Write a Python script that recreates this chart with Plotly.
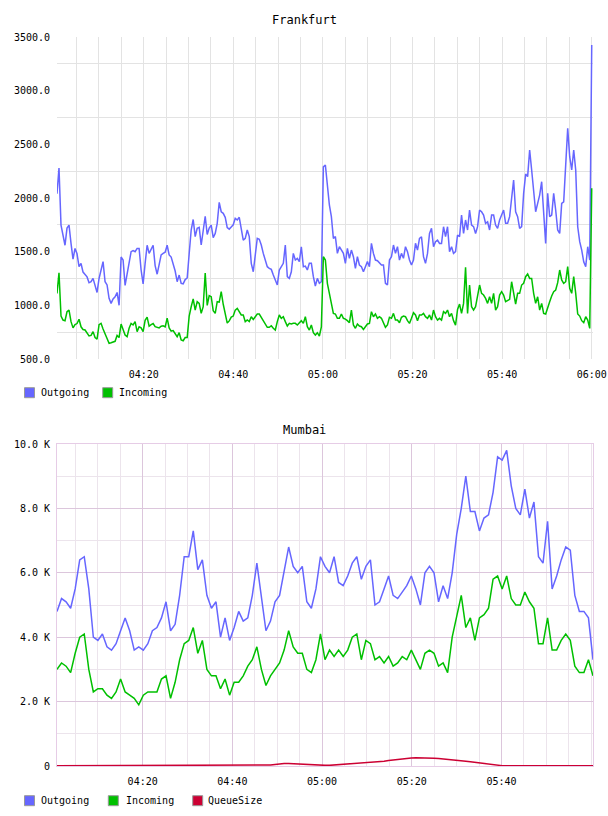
import pandas as pd
import plotly.graph_objects as go

# ---------------- data ----------------
# Frankfurt (values), sampled evenly from 04:00:39 to 06:00:00
fra_outgoing = [
    2040, 2280, 1748, 1650, 1560, 1720, 1748, 1577, 1430, 1530, 1480, 1360, 1390, 1310, 1290, 1265,
    1210, 1220, 1251, 1170, 1120, 1250, 1320, 1407, 1220, 1190, 1065, 1018, 1060, 1080, 1120, 1000,
    1450, 1422, 1185, 1290, 1420, 1500, 1510, 1500, 1530, 1530, 1329, 1200, 1391, 1560, 1484, 1520,
    1560, 1370, 1290, 1380, 1470, 1484, 1495, 1560, 1470, 1450, 1390, 1320, 1220, 1282, 1205, 1200,
    1240, 1255, 1480, 1702, 1800, 1640, 1717, 1726, 1562, 1717, 1830, 1660, 1720, 1748, 1630, 1670,
    1764, 1960, 1872, 1857, 1820, 1725, 1710, 1730, 1750, 1810, 1795, 1820,
    1702, 1608, 1624, 1702, 1640, 1391, 1313, 1453, 1624, 1615, 1562, 1484, 1428, 1360, 1345, 1335,
    1282, 1242, 1190, 1329, 1360, 1391, 1562, 1267, 1251, 1313, 1484, 1422, 1438, 1407, 1546, 1360,
    1366, 1329, 1391, 1391, 1267, 1180, 1251, 1205, 1220, 2290, 2307, 2090, 1935, 1826, 1624, 1640,
    1484, 1546, 1515, 1484, 1391, 1531, 1438, 1515, 1453, 1345, 1453, 1376, 1360, 1313, 1360, 1407,
    1360, 1578, 1484, 1422, 1416, 1397, 1376, 1376, 1205, 1189, 1422, 1453, 1562, 1484, 1546, 1422,
    1484, 1438, 1546, 1500, 1422, 1376, 1422, 1578, 1515, 1624,
    1639, 1453, 1391, 1484, 1670, 1717, 1546, 1593, 1608, 1577, 1577, 1732, 1640, 1732, 1500, 1546,
    1484, 1500, 1655, 1640, 1841, 1670, 1795, 1702, 1888, 1748, 1733, 1670, 1733, 1888, 1872, 1841,
    1764, 1779, 1702, 1841, 1841, 1748, 1717, 1795, 1841, 1888, 1764, 1764, 1826, 2012, 2168, 1872,
    1826, 1717, 1733, 2043, 2223, 2199, 2447, 2261, 2074, 1872, 1950, 2027, 2152, 1888, 1577, 2043,
    1826, 1841, 2043, 1888, 1702, 1670, 1950, 1965, 2354, 2649, 2385, 2261, 2447, 2261, 1732, 1593,
    1515, 1406, 1360, 1546, 1422, 3425,
]
fra_incoming = [
    1110, 1304, 900, 863, 857, 940, 956, 848, 790, 820, 830, 870, 800, 775, 770, 745,
    715, 720, 755, 700, 685, 820, 832, 780, 730, 690, 646, 652, 661, 665, 720, 700,
    826, 770, 723, 708, 786, 832, 817, 848, 755, 800, 790, 755, 860, 890, 805, 820,
    830, 801, 795, 790, 805, 810, 800, 880, 790, 760, 765, 730, 708, 745, 677, 670,
    700, 700, 900, 987, 1060, 956, 1034, 1018, 925, 987, 1300, 1000, 1090, 1081, 950, 925,
    1034, 1030, 1127, 1010, 930, 835, 855, 890, 900, 956, 972, 935,
    910, 910, 848, 863, 848, 894, 869, 894, 919, 919, 888, 857, 826, 795, 795, 810,
    786, 770, 848, 910, 879, 894, 848, 807, 832, 826, 832, 832, 817, 838, 857, 832,
    894, 801, 770, 817, 745, 723, 745, 714, 800, 1453, 1422, 1205, 1112, 1018, 925, 919,
    879, 879, 919, 879, 872, 857, 838, 956, 817, 786, 826, 807, 801, 776, 807, 826,
    832, 941, 894, 919, 879, 894, 879, 832, 795, 817, 888, 879, 925, 863, 863, 838,
    888, 900, 894, 857, 832, 879, 931, 910, 857, 910,
    910, 925, 894, 879, 910, 863, 956, 894, 863, 879, 863, 941, 925, 956, 894, 925,
    857, 816, 962, 1012, 925, 1018, 1354, 925, 1189, 987, 956, 987, 1080, 1189, 1112, 1096,
    1065, 1018, 1080, 1018, 1112, 956, 987, 1096, 1127, 1096, 1034, 1043, 1056, 1220, 1112, 1012,
    1112, 1112, 1189, 1205, 1267, 1292, 1251, 1251, 1112, 1018, 1080, 956, 1018, 925, 919, 987,
    1034, 1087, 1127, 1143, 1211, 1329, 1236, 1205, 1220, 1360, 1158, 1112, 1267, 1112, 919, 900,
    857, 838, 894, 863, 785, 2090,
]

# Mumbai (thousands), sampled evenly from 04:00:54 to 06:00:25
mum_outgoing = [
    4.8, 5.2, 5.1, 4.9, 5.5, 6.4, 6.5, 5.5, 4.0, 3.9,
    4.1, 3.7, 3.6, 3.8, 4.2, 4.6, 4.2, 3.6, 3.7, 3.6,
    3.8, 4.2, 4.3, 4.6, 5.1, 4.2, 4.4, 5.3, 6.5, 6.5,
    7.3, 6.1, 6.4, 5.3, 4.9, 5.1, 4.0, 4.6, 3.9, 4.3,
    4.8, 4.5, 4.6, 5.3, 6.3, 5.2, 4.2, 4.5, 5.1, 5.3,
    6.0, 6.8, 6.2, 6.0, 6.2, 5.1, 4.9, 5.5, 6.5, 6.2,
    6.0, 6.5, 5.7, 5.6, 5.9, 6.3, 6.5, 5.8, 6.2, 6.4,
    5.0, 5.1, 5.5, 5.9, 5.3, 5.2, 5.4, 5.6, 5.9, 5.5,
    5.0, 6.0, 6.2, 6.0, 5.1, 5.6, 5.2, 6.0, 7.2, 8.0,
    9.0, 7.9, 7.9, 7.3, 7.7, 7.8, 8.5, 9.6, 9.5, 9.8,
    8.7, 8.0, 7.8, 8.6, 7.7, 8.2, 6.5, 6.3, 7.6, 5.5,
    5.9, 6.4, 6.8, 6.7, 5.3, 4.8, 4.8, 4.6, 3.3,
]
mum_incoming = [
    3.0, 3.2, 3.1, 2.9, 3.5, 4.0, 4.1, 3.0, 2.3, 2.4,
    2.4, 2.2, 2.1, 2.3, 2.7, 2.3, 2.2, 2.1, 1.9, 2.2,
    2.3, 2.3, 2.3, 2.7, 2.8, 2.1, 2.6, 3.3, 3.8, 3.9,
    4.3, 3.5, 3.9, 3.0, 2.8, 2.8, 2.4, 2.7, 2.2, 2.6,
    2.6, 2.8, 3.1, 3.3, 3.7, 3.0, 2.5, 2.8, 3.0, 3.2,
    3.6, 4.2, 3.7, 3.5, 3.5, 3.0, 2.9, 3.3, 4.1, 3.3,
    3.6, 3.4, 3.6, 3.4, 3.6, 4.0, 4.1, 3.3, 3.9, 3.8,
    3.3, 3.4, 3.2, 3.4, 3.1, 3.2, 3.4, 3.3, 3.6, 3.3,
    3.0, 3.5, 3.6, 3.5, 3.1, 3.2, 2.9, 4.0, 4.6, 5.3,
    4.3, 4.6, 3.9, 4.6, 4.7, 4.9, 5.8, 5.9, 5.5, 5.9,
    5.2, 5.0, 5.0, 5.4, 5.1, 4.9, 3.8, 3.8, 4.6, 3.6,
    3.6, 3.9, 4.1, 3.9, 3.1, 2.9, 2.9, 3.3, 2.8,
]
mum_queue = (
    [0.01] * 21 + [0.03] * 13 + [0.01] * 13
    + [0.03, 0.05, 0.07, 0.08, 0.08, 0.07]
    + [0.06, 0.06, 0.05, 0.05, 0.04, 0.03, 0.02, 0.02, 0.03, 0.04]
    + [0.05, 0.06, 0.06, 0.07, 0.08, 0.09, 0.10, 0.11]
    + [0.13, 0.15, 0.17, 0.19, 0.21, 0.23, 0.24, 0.25, 0.26, 0.26, 0.26]
    + [0.25, 0.24, 0.23, 0.22, 0.21, 0.20, 0.19, 0.17, 0.15, 0.13, 0.11, 0.09, 0.07, 0.05, 0.03, 0.02, 0.01]
    + [0.01] * 20
)

fra_ticks = [500, 1000, 1500, 2000, 2500, 3000, 3500]
fra_tick_text = ["500.0", "1000.0", "1500.0", "2000.0", "2500.0", "3000.0", "3500.0"]
mum_ticks = [0, 2, 4, 6, 8, 10]
mum_tick_text = ["0", "2.0 K", "4.0 K", "6.0 K", "8.0 K", "10.0 K"]
series_names = ["Outgoing", "Incoming", "QueueSize"]
series_colors = ["#6666ff", "#00c000", "#cc0033"]

DAY = "2000-01-01 "
fra_t = pd.date_range(DAY + "04:00:39", DAY + "06:00:00", periods=len(fra_outgoing))
mum_t = pd.date_range(DAY + "04:00:54", DAY + "06:00:25", periods=len(mum_outgoing))

W, H = 608, 816
FONT = "DejaVu Sans Mono"


def px(x):
    return x / W


def py(y):
    return 1 - y / H


fig = go.Figure()
fig.add_trace(go.Scatter(x=fra_t, y=fra_outgoing, mode="lines", name=series_names[0],
                         line=dict(color=series_colors[0], width=1.5), xaxis="x", yaxis="y",
                         showlegend=False))
fig.add_trace(go.Scatter(x=fra_t, y=fra_incoming, mode="lines", name=series_names[1],
                         line=dict(color=series_colors[1], width=1.5), xaxis="x", yaxis="y",
                         showlegend=False))
fig.add_trace(go.Scatter(x=mum_t, y=mum_outgoing, mode="lines", name=series_names[0],
                         line=dict(color=series_colors[0], width=1.5), xaxis="x2", yaxis="y2",
                         showlegend=False))
fig.add_trace(go.Scatter(x=mum_t, y=mum_incoming, mode="lines", name=series_names[1],
                         line=dict(color=series_colors[1], width=1.5), xaxis="x2", yaxis="y2",
                         showlegend=False))
fig.add_trace(go.Scatter(x=mum_t, y=mum_queue, mode="lines", name=series_names[2],
                         line=dict(color=series_colors[2], width=1.5), xaxis="x2", yaxis="y2",
                         showlegend=False))

major_top = [DAY + t for t in ["04:20", "04:40", "05:00", "05:20", "05:40", "06:00"]]
major_bot = [DAY + t for t in ["04:20", "04:40", "05:00", "05:20", "05:40"]]
minor_x = [str(t) for t in pd.date_range(DAY + "04:05", DAY + "06:00", freq="5min")]

GRID_TOP = "#e3e3e3"
GRID_MAJ = "#dcc6dc"
GRID_MIN = "#ece4ec"
BORDER = "#e6cce6"

tickfont = dict(family=FONT, size=10, color="#000000")

fig.update_layout(
    width=W, height=H,
    margin=dict(l=0, r=0, t=0, b=0, autoexpand=False),
    paper_bgcolor="white", plot_bgcolor="white",
    showlegend=False,
    xaxis=dict(
        domain=[px(57), px(593)], anchor="y", automargin=False,
        range=[DAY + "04:00:39", DAY + "06:00:17"],
        tickmode="array", tickvals=major_top, tickformat="%H:%M",
        showgrid=True, gridcolor=GRID_TOP, gridwidth=1,
        ticks="outside", ticklen=6, tickcolor="rgba(0,0,0,0)",
        minor=dict(tickmode="array", tickvals=minor_x, showgrid=True, gridcolor=GRID_TOP, ticks=""),
        showline=False, zeroline=False, tickfont=tickfont,
    ),
    yaxis=dict(
        domain=[py(359), py(37)], anchor="x", automargin=False,
        range=[500, 3500],
        tickmode="array", tickvals=fra_ticks, ticktext=fra_tick_text,
        showgrid=False,
        minor=dict(tickmode="array", tickvals=[750, 1250, 1750, 2250, 2750, 3250],
                   showgrid=True, gridcolor=GRID_TOP, ticks=""),
        ticks="outside", ticklen=4, tickcolor="rgba(0,0,0,0)",
        showline=False, zeroline=False, tickfont=tickfont,
    ),
    xaxis2=dict(
        domain=[px(57), px(593)], anchor="y2", automargin=False,
        range=[DAY + "04:00:54", DAY + "06:00:25"],
        tickmode="array", tickvals=major_bot, tickformat="%H:%M",
        showgrid=True, gridcolor=GRID_MAJ, gridwidth=1,
        ticks="outside", ticklen=6, tickcolor="rgba(0,0,0,0)",
        minor=dict(tickmode="array", tickvals=minor_x, showgrid=True, gridcolor=GRID_MIN, ticks=""),
        showline=True, mirror=True, linecolor=BORDER, linewidth=1,
        zeroline=False, tickfont=tickfont,
    ),
    yaxis2=dict(
        domain=[py(766), py(444)], anchor="x2", automargin=False,
        range=[0, 10],
        tickmode="array", tickvals=mum_ticks, ticktext=mum_tick_text,
        showgrid=True, gridcolor=GRID_MAJ,
        minor=dict(tickmode="array", tickvals=[1, 3, 5, 7, 9], showgrid=True, gridcolor=GRID_MIN, ticks=""),
        ticks="outside", ticklen=4, tickcolor="rgba(0,0,0,0)",
        showline=True, mirror=True, linecolor=BORDER, linewidth=1,
        zeroline=False, tickfont=tickfont,
    ),
)

annotations = [
    dict(text="Frankfurt", x=0.5, y=py(20), xref="paper", yref="paper", showarrow=False,
         xanchor="center", yanchor="middle", font=dict(family=FONT, size=12, color="#000")),
    dict(text="Mumbai", x=0.5, y=py(430), xref="paper", yref="paper", showarrow=False,
         xanchor="center", yanchor="middle", font=dict(family=FONT, size=12, color="#000")),
]
shapes = []
legend_rows = [
    (392.7, [(24.5, 38.5, 0), (102.7, 117.0, 1)]),
    (800.7, [(24.5, 38.5, 0), (108.3, 123.5, 1), (192.7, 206.3, 2)]),
]
for yc, items in legend_rows:
    for sx, tx, i in items:
        shapes.append(dict(type="rect", xref="paper", yref="paper",
                           x0=px(sx), x1=px(sx + 10), y0=py(yc + 5), y1=py(yc - 5),
                           fillcolor=series_colors[i], line=dict(color="#999999", width=1)))
        annotations.append(dict(text=series_names[i], x=px(tx), y=py(yc), xref="paper", yref="paper",
                                showarrow=False, xanchor="left", yanchor="middle",
                                font=dict(family=FONT, size=10, color="#000")))

fig.update_layout(annotations=annotations, shapes=shapes)
fig.write_html("out.html")
